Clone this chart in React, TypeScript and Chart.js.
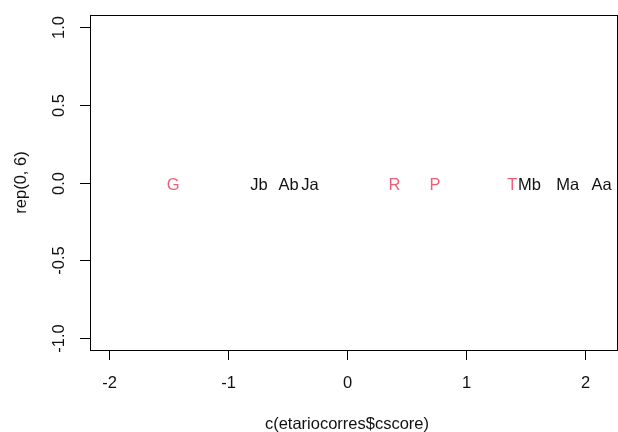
import React, { useEffect, useRef } from "react";
import { Chart, registerables } from "chart.js";

Chart.register(...registerables);

const labels = ["G", "Jb", "Ab", "Ja", "R", "P", "T", "Mb", "Ma", "Aa"];
const xValues = [-1.46, -0.74, -0.49, -0.31, 0.40, 0.74, 1.39, 1.535, 1.855, 2.14];
const yValues = [0, 0, 0, 0, 0, 0, 0, 0, 0, 0];
const groupRed = [true, false, false, false, true, true, true, false, false, false];
const xTicks = [-2, -1, 0, 1, 2];
const yTicks = [-1.0, -0.5, 0.0, 0.5, 1.0];
const xTitle = "c(etariocorres$cscore)";
const yTitle = "rep(0, 6)";

const RED = "#EF6078";
const INK = "#111111";
const FONT = "16.5px 'Liberation Sans', Arial, sans-serif";

export default function App() {
  const ref = useRef<HTMLCanvasElement>(null);
  useEffect(() => {
    document.body.style.margin = "0";
    const canvas = ref.current!;
    const decor = {
      id: "rdecor",
      afterDraw(chart: any) {
        const ctx = chart.ctx as CanvasRenderingContext2D;
        const a = chart.chartArea;
        const xs = chart.scales.x;
        const ys = chart.scales.y;
        ctx.save();
        ctx.strokeStyle = "#000";
        ctx.lineWidth = 1;
        ctx.strokeRect(Math.round(a.left) + 0.5, Math.round(a.top) + 0.5, Math.round(a.right - a.left), Math.round(a.bottom - a.top));
        ctx.font = FONT;
        ctx.fillStyle = INK;
        // x ticks
        ctx.textAlign = "center";
        ctx.textBaseline = "middle";
        for (const t of xTicks) {
          const px = Math.round(xs.getPixelForValue(t)) + 0.5;
          ctx.beginPath();
          ctx.moveTo(px, a.bottom);
          ctx.lineTo(px, a.bottom + 10);
          ctx.stroke();
          ctx.fillText(String(t), px, a.bottom + 33);
        }
        // y ticks
        for (const t of yTicks) {
          const py = Math.round(ys.getPixelForValue(t)) + 0.5;
          ctx.beginPath();
          ctx.moveTo(a.left, py);
          ctx.lineTo(a.left - 10, py);
          ctx.stroke();
          ctx.save();
          ctx.translate(a.left - 31, py);
          ctx.rotate(-Math.PI / 2);
          ctx.fillText(t.toFixed(1), 0, 0);
          ctx.restore();
        }
        // titles
        ctx.fillText(xTitle, xs.getPixelForValue(0), 424);
        ctx.save();
        ctx.translate(21, ys.getPixelForValue(0));
        ctx.rotate(-Math.PI / 2);
        ctx.fillText(yTitle, 0, 0);
        ctx.restore();
        // point labels
        const meta = chart.getDatasetMeta(0);
        meta.data.forEach((pt: any, i: number) => {
          ctx.fillStyle = groupRed[i] ? RED : INK;
          ctx.fillText(labels[i], pt.x, pt.y + 2.5);
        });
        ctx.restore();
      },
    };
    const chart = new Chart(canvas, {
      type: "scatter",
      data: {
        datasets: [
          {
            data: xValues.map((x, i) => ({ x, y: yValues[i] })),
            pointRadius: 0,
            pointHoverRadius: 0,
          },
        ],
      },
      options: {
        animation: false,
        responsive: false,
        layout: { padding: { left: 90, right: 1, top: 15, bottom: 82 } },
        plugins: { legend: { display: false }, tooltip: { enabled: false } },
        events: [],
        scales: {
          x: { type: "linear", min: -2.16, max: 2.27, display: false },
          y: { type: "linear", min: -1.08, max: 1.08, display: false },
        },
      },
      plugins: [decor],
    });
    return () => chart.destroy();
  }, []);
  return (
    <div style={{ width: 618, height: 432, background: "#fff" }}>
      <canvas ref={ref} width={618} height={432} style={{ display: "block" }} />
    </div>
  );
}
